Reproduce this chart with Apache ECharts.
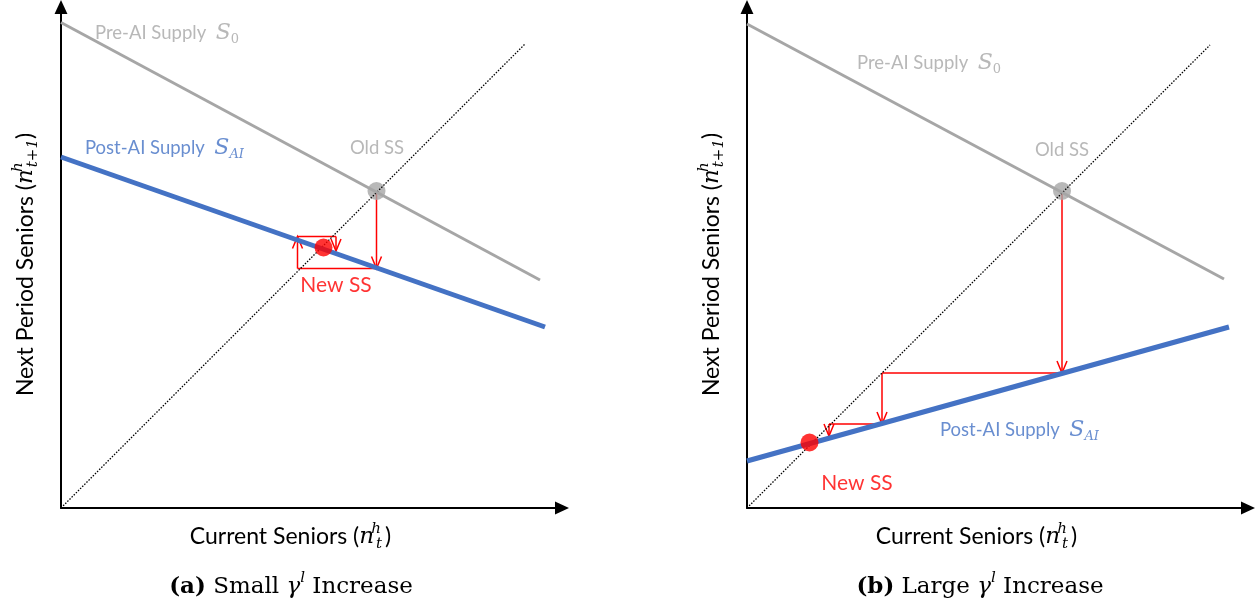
<!DOCTYPE html>
<html>
<head>
<meta charset="utf-8">
<script src="https://cdn.jsdelivr.net/npm/echarts@6/dist/echarts.min.js"></script>
<style>
  html, body { margin: 0; padding: 0; background: #fff; }
  #main { width: 1258px; height: 609px; }
</style>
</head>
<body>
<div id="main"></div>
<script>
// values, in axis units (both axes run 0..10.02, 50 px per unit)
// panel (a) small gamma increase
const preAI_a = [[0, 9.71], [9.58, 4.56]];
const postAI_a = [[0, 7.02], [9.68, 3.62]];
const diag_a = [[0, 0], [9.27, 9.27]];
const oldSS_a = [6.31, 6.34];
const newSS_a = [5.25, 5.21];
const cobweb_a = [[6.31, 6.34], [6.31, 4.79], [4.73, 4.79], [4.73, 5.43], [5.5, 5.43], [5.5, 5.14]];

// panel (b) large gamma increase
const preAI_b = [[0, 9.68], [9.54, 4.58]];
const postAI_b = [[0, 0.94], [9.64, 3.62]];
const diag_b = [[0, 0], [9.26, 9.26]];
const oldSS_b = [6.3, 6.34];
const newSS_b = [1.25, 1.31];
const cobweb_b = [[6.3, 6.34], [6.3, 2.7], [2.7, 2.7], [2.7, 1.68], [1.64, 1.68], [1.64, 1.44]];

// which cobweb steps end with an arrow head
const arrowSteps = [1, 0, 1, 0, 1];

const xTitle = 'Current Seniors ({n|n}{gap| }{sup|h}{sub|t}{gap2| })';
const yTitle = 'Next Period Seniors ({n|n}{gap| }{sup|h}{sub|t+1})';
const captions = ['{b|(a)} Small {g|γ}{sup|l} Increase', '{b|(b)} Large {g|γ}{sup|l} Increase'];

const preLabel = 'Pre-AI Supply  {s|S}{sub|0}';
const postLabel = 'Post-AI Supply  {s|S}{subi|AI}';
const oldLabel = 'Old SS';
const newLabel = '{big|New SS}';

// text notes: text, anchor, colour, placement
const notes_a = [
  [preLabel, [0.68, 9.5], '#a6a6a6', 'right'],
  [postLabel, [0.48, 7.2], '#4472c4', 'right'],
  [oldLabel, [6.32, 7.2], '#a6a6a6', 'inside'],
  [newLabel, [5.5, 4.46], '#ff0000', 'inside']
];
const notes_b = [
  [preLabel, [2.2, 8.9], '#a6a6a6', 'right'],
  [postLabel, [3.86, 1.56], '#4472c4', 'right'],
  [oldLabel, [6.3, 7.16], '#a6a6a6', 'inside'],
  [newLabel, [2.2, 0.5], '#ff0000', 'inside']
];

const SANS = 'Lato';
const SERIF = 'DejaVu Serif';
const GREY = '#a6a6a6', BLUE = '#4472c4', RED = '#ff0000';

const mathRich = {
  n: { fontFamily: SERIF, fontStyle: 'italic', fontSize: 23, color: '#000' },
  gap: { fontSize: 10, width: 2 },
  gap2: { fontSize: 10, width: 3 },
  sup: { fontFamily: SERIF, fontStyle: 'italic', fontSize: 15, verticalAlign: 'top', width: 0, align: 'left', color: '#000' },
  sub: { fontFamily: SERIF, fontStyle: 'italic', fontSize: 15, verticalAlign: 'bottom', color: '#000' }
};

function steps(points) {
  const out = [];
  for (let i = 0; i < points.length - 1; i++) {
    out.push([points[i][0], points[i][1], points[i + 1][0], points[i + 1][1], arrowSteps[i]]);
  }
  return out;
}

function cobwebItem(params, api) {
  const p1 = api.coord([api.value(0), api.value(1)]);
  const p2 = api.coord([api.value(2), api.value(3)]);
  const kids = [{
    type: 'line',
    shape: { x1: p1[0], y1: p1[1], x2: p2[0], y2: p2[1] },
    style: { stroke: RED, lineWidth: 1.5 }
  }];
  if (api.value(4)) {
    const ang = Math.atan2(p2[1] - p1[1], p2[0] - p1[0]);
    const len = 12, half = 5;
    const bx = p2[0] - len * Math.cos(ang), by = p2[1] - len * Math.sin(ang);
    const nx = -Math.sin(ang) * half, ny = Math.cos(ang) * half;
    kids.push({
      type: 'polyline',
      shape: { points: [[bx + nx, by + ny], [p2[0], p2[1]], [bx - nx, by - ny]] },
      style: { stroke: RED, fill: null, lineWidth: 1.5 }
    });
  }
  return { type: 'group', children: kids };
}

function axisPair(i) {
  const line = {
    show: true,
    symbol: ['none', 'path://M6,0 L12,13 L0,13 Z'],
    symbolSize: [13, 14],
    lineStyle: { color: '#000', width: 2 }
  };
  const x = {
    type: 'value', gridIndex: i, min: 0, max: 10.02,
    axisLine: line, axisTick: { show: false }, axisLabel: { show: false }, splitLine: { show: false },
    name: xTitle, nameLocation: 'middle', nameGap: 14,
    nameTextStyle: { fontFamily: SANS, fontSize: 23, color: '#000', lineHeight: 30, padding: [0, 42, 0, 0], rich: mathRich }
  };
  const y = {
    type: 'value', gridIndex: i, min: 0, max: 10.02,
    axisLine: line, axisTick: { show: false }, axisLabel: { show: false }, splitLine: { show: false },
    name: yTitle, nameLocation: 'middle', nameGap: 20,
    nameTextStyle: { fontFamily: SANS, fontSize: 23, color: '#000', lineHeight: 30, padding: [0, 14, 0, 0], rich: mathRich }
  };
  return [x, y];
}

function panelSeries(i, pre, post, diag, oldSS, newSS, cob, notes) {
  const base = { xAxisIndex: i, yAxisIndex: i, silent: true, animation: false };
  return [
    Object.assign({ type: 'line', data: diag, symbol: 'none', lineStyle: { color: '#000', width: 1.3, type: [1.5, 1.5] } }, base),
    Object.assign({ type: 'line', data: pre, symbol: 'none', lineStyle: { color: GREY, width: 3 } }, base),
    Object.assign({ type: 'line', data: post, symbol: 'none', lineStyle: { color: BLUE, width: 5 } }, base),
    Object.assign({ type: 'custom', data: steps(cob), renderItem: cobwebItem, encode: { x: [0, 2], y: [1, 3] } }, base),
    Object.assign({ type: 'scatter', symbolSize: 18, data: [oldSS], itemStyle: { color: GREY } }, base),
    Object.assign({ type: 'scatter', symbolSize: 18, data: [newSS], itemStyle: { color: RED }, z: 5 }, base),
    Object.assign({
      type: 'scatter', symbolSize: 0,
      data: notes.map(n => ({
        value: n[1],
        label: { show: true, formatter: n[0], color: n[2], position: n[3], distance: 0 }
      })),
      label: {
        fontFamily: SANS, fontSize: 18.5, lineHeight: 26,
        rich: {
          s: { fontFamily: SERIF, fontStyle: 'italic', fontSize: 22 },
          sub: { fontFamily: SERIF, fontSize: 13, verticalAlign: 'bottom' },
          subi: { fontFamily: SERIF, fontStyle: 'italic', fontSize: 13, verticalAlign: 'bottom' },
          big: { fontFamily: SANS, fontSize: 21 }
        }
      }
    }, base)
  ];
}

const [xa, ya] = axisPair(0);
const [xb, yb] = axisPair(1);

const capStyle = {
  fontFamily: SERIF, fontSize: 23, fontWeight: 'normal', color: '#000', lineHeight: 32,
  rich: {
    b: { fontFamily: SERIF, fontSize: 23, fontWeight: 'bold' },
    g: { fontFamily: SERIF, fontSize: 23, fontStyle: 'italic' },
    sup: { fontFamily: SERIF, fontSize: 15, fontStyle: 'italic', verticalAlign: 'top' }
  }
};

const chart = echarts.init(document.getElementById('main'));
chart.setOption({
  animation: false,
  backgroundColor: '#fff',
  title: [
    { text: captions[0], left: 286, top: 566, textAlign: 'center', textStyle: capStyle },
    { text: captions[1], left: 975, top: 566, textAlign: 'center', textStyle: capStyle }
  ],
  grid: [
    { left: 61, top: 7, width: 501, height: 501 },
    { left: 747, top: 7, width: 501, height: 501 }
  ],
  xAxis: [xa, xb],
  yAxis: [ya, yb],
  series: panelSeries(0, preAI_a, postAI_a, diag_a, oldSS_a, newSS_a, cobweb_a, notes_a)
    .concat(panelSeries(1, preAI_b, postAI_b, diag_b, oldSS_b, newSS_b, cobweb_b, notes_b))
});
</script>
</body>
</html>
